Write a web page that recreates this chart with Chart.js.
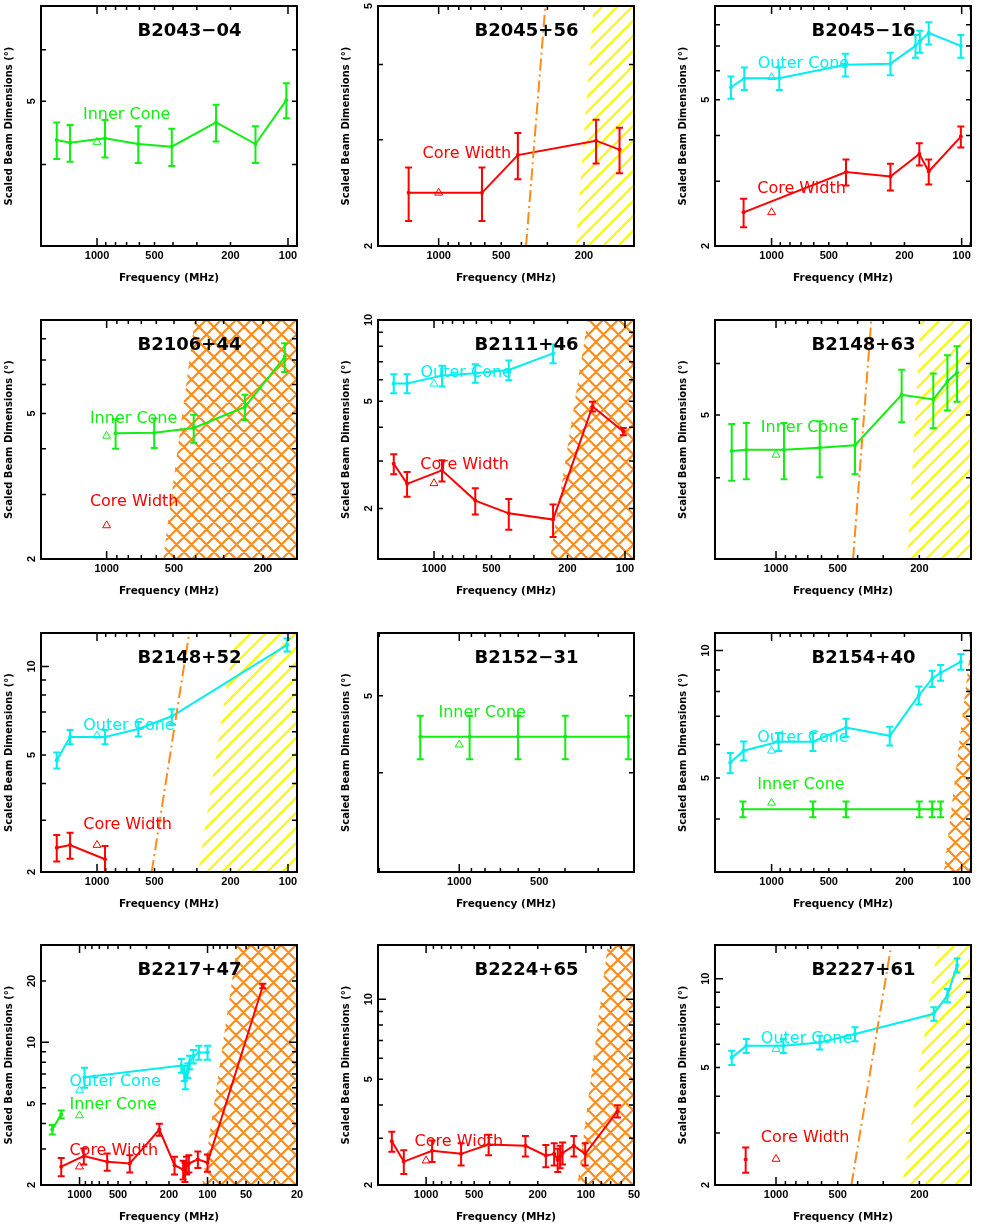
<!DOCTYPE html>
<html>
<head>
<meta charset="utf-8">
<script src="https://cdn.jsdelivr.net/npm/chart.js@4.4.1/dist/chart.umd.min.js"></script>
<style>
  html, body { margin: 0; padding: 0; background: #fff; width: 981px; height: 1226px; overflow: hidden; position: relative; }
  canvas { position: absolute; }
</style>
</head>
<body>
<script>
// colours
const GREEN = '#11ee11', CYAN = '#00eeee', RED = '#ff0000', ORANGE = '#ff8c1a', YELLOW = '#f8f800';

// tick labels
const freqTickLabels = [20, 50, 100, 200, 500, 1000];
const dimTickLabels = [2, 5, 10, 20];
const REF_FREQ = 1000; // open triangles sit at 1 GHz

// B2043-04
const b2043Freq = [1625, 1384, 908, 608, 406, 238, 148, 102];
const b2043Inner = [4.36, 4.32, 4.39, 4.30, 4.26, 4.64, 4.30, 5.02];
const b2043InnerErr = [0.28, 0.28, 0.29, 0.28, 0.28, 0.30, 0.28, 0.31];

// B2045+56
const b2045aFreq = [1394, 619, 416, 175, 135];
const b2045aCore = [2.45, 2.45, 2.83, 2.99, 2.89];
const b2045aCoreErr = [0.25, 0.25, 0.25, 0.25, 0.25];
const b2045aScat = [[380, 2], [307, 5]];
const b2045aHatch = [[219, 2], [180, 5]];

// B2045-16
const b2045bOuterFreq = [1636, 1392, 911, 409, 237, 175, 166, 149, 101];
const b2045bOuter = [5.41, 5.72, 5.72, 6.23, 6.27, 7.01, 7.21, 7.60, 7.01];
const b2045bOuterErr = [0.38, 0.40, 0.40, 0.44, 0.44, 0.50, 0.50, 0.53, 0.50];
const b2045bCoreFreq = [1404, 406, 237, 167, 149, 101];
const b2045bCore = [2.47, 3.18, 3.09, 3.56, 3.19, 3.97];
const b2045bCoreErr = [0.22, 0.26, 0.26, 0.25, 0.25, 0.26];

// B2106+44
const b2106Freq = [912, 613, 408, 241, 160];
const b2106Inner = [4.41, 4.43, 4.56, 5.21, 7.13];
const b2106InnerErr = [0.41, 0.41, 0.40, 0.41, 0.64];
const b2106Hatch = [[559, 2], [404, 9]];

// B2111+46
const b2111Freq = [1625, 1384, 908, 608, 406, 238, 148, 102];
const b2111Outer = [5.82, 5.82, 6.22, 6.35, 6.53, 7.52];
const b2111OuterErr = [0.47, 0.47, 0.55, 0.50, 0.55, 0.60];
const b2111Core = [2.93, 2.47, 2.77, 2.14, 1.92, 1.82, 4.78, 3.86];
const b2111CoreErr = [0.25, 0.26, 0.25, 0.24, 0.25, 0.25, 0.20, 0.12];
const b2111Hatch = [[247, 1.3], [157, 10]];

// B2148+63
const b2148aFreq = [1644, 1396, 914, 612, 412, 244, 171, 146, 131];
const b2148aInner = [4.40, 4.42, 4.42, 4.45, 4.49, 5.37, 5.28, 5.63, 5.81];
const b2148aInnerErr = [0.44, 0.44, 0.44, 0.44, 0.44, 0.50, 0.51, 0.55, 0.57];
const b2148aScat = [[421, 3], [343, 7]];
const b2148aHatch = [[229, 3], [197, 7]];

// B2148+52
const b2148bFreq = [1625, 1384, 908, 608, 406, 101];
const b2148bOuter = [4.80, 5.76, 5.76, 6.13, 6.77, 11.85];
const b2148bOuterErr = [0.30, 0.32, 0.32, 0.35, 0.38, 0.60];
const b2148bCore = [2.42, 2.47, 2.21];
const b2148bCoreErr = [0.25, 0.25, 0.24];
const b2148bScat = [[517, 2], [329, 13]];
const b2148bHatch = [[295, 2], [190, 13]];

// B2152-31
const b2152Freq = [1402, 914, 601, 399, 231];
const b2152Inner = [4.44, 4.44, 4.44, 4.44, 4.44];
const b2152InnerErr = [0.28, 0.28, 0.28, 0.28, 0.28];

// B2154+40
const b2154OuterFreq = [1650, 1404, 919, 606, 406, 239, 168, 143, 129, 101];
const b2154Outer = [5.43, 5.80, 6.09, 6.09, 6.58, 6.29, 7.84, 8.58, 8.86, 9.41];
const b2154OuterErr = [0.30, 0.30, 0.30, 0.30, 0.32, 0.32, 0.38, 0.38, 0.38, 0.40];
const b2154InnerFreq = [1416, 606, 406, 167, 143, 129];
const b2154Inner = [4.22, 4.22, 4.22, 4.22, 4.22, 4.22];
const b2154InnerErr = [0.18, 0.18, 0.18, 0.18, 0.18, 0.18];
const b2154Hatch = [[124, 3], [88, 11]];

// B2217+47
const b2217CoreFreq = [1390, 926, 608, 405, 238, 181, 155, 150, 146, 140, 119, 100, 37];
const b2217Core = [2.46, 2.77, 2.60, 2.55, 3.74, 2.50, 2.38, 2.32, 2.50, 2.55, 2.67, 2.57, 18.9];
const b2217CoreErr = [0.25, 0.25, 0.25, 0.25, 0.25, 0.25, 0.25, 0.25, 0.25, 0.25, 0.25, 0.25, 0.5];
const b2217OuterFreq = [914, 160, 152, 149, 143, 138, 129, 117, 100];
const b2217Outer = [6.75, 7.70, 7.06, 6.50, 7.28, 7.99, 8.52, 8.93, 8.93];
const b2217OuterErr = [0.75, 0.60, 0.60, 0.60, 0.60, 0.60, 0.65, 0.70, 0.70];
const b2217InnerFreq = [1634, 1390];
const b2217Inner = [3.74, 4.44];
const b2217InnerErr = [0.2, 0.2];
const b2217Hatch = [[110, 2], [58.6, 30]];

// B2224+65
const b2224Freq = [1639, 1379, 917, 604, 406, 239, 178, 158, 150, 145, 140, 119, 101, 63.4];
const b2224Core = [2.92, 2.45, 2.69, 2.62, 2.84, 2.81, 2.58, 2.62, 2.49, 2.56, 2.64, 2.81, 2.62, 3.79];
const b2224CoreErr = [0.25, 0.25, 0.25, 0.25, 0.25, 0.25, 0.25, 0.25, 0.25, 0.25, 0.25, 0.25, 0.25, 0.2];
const b2224Hatch = [[113, 2], [73, 16]];

// B2227+61
const b2227OuterFreq = [1644, 1396, 921, 612, 412, 170, 146, 131];
const b2227Outer = [5.40, 5.92, 5.92, 6.08, 6.49, 7.60, 8.77, 11.1];
const b2227OuterErr = [0.30, 0.32, 0.32, 0.33, 0.35, 0.40, 0.45, 0.60];
const b2227CoreFreq = [1406];
const b2227Core = [2.44];
const b2227CoreErr = [0.24];
const b2227Scat = [[429, 2], [274, 13]];
const b2227Hatch = [[242, 2], [163, 13]];

// layout of the 3x4 grid (plot frames)
const PLOT_W = 256;
const COL_LEFT = [41, 378, 715];
const ROW_TOP = [6, 320, 633, 945];
const ROW_H = [240, 239, 239, 240];

const panels = [
  { name: 'B2043\u221204', x: [89.7, 1965], y: [3, 7],
    series: [{ f: b2043Freq, v: b2043Inner, e: b2043InnerErr, c: GREEN }],
    refs: [[4.33, GREEN]], texts: [['Inner Cone', GREEN, 0.164, 0.454]] },
  { name: 'B2045+56', x: [115, 1957], y: [2, 5],
    series: [{ f: b2045aFreq, v: b2045aCore, e: b2045aCoreErr, c: RED }],
    refs: [[2.45, RED]], texts: [['Core Width', RED, 0.174, 0.617]],
    scat: b2045aScat, hatch: { pts: b2045aHatch, cross: false } },
  { name: 'B2045\u221216', x: [89.3, 1985], y: [2, 9],
    series: [{ f: b2045bOuterFreq, v: b2045bOuter, e: b2045bOuterErr, c: CYAN },
             { f: b2045bCoreFreq, v: b2045bCore, e: b2045bCoreErr, c: RED }],
    refs: [[5.76, CYAN], [2.47, RED]],
    texts: [['Outer Cone', CYAN, 0.167, 0.239], ['Core Width', RED, 0.165, 0.76]] },
  { name: 'B2106+44', x: [141, 1965], y: [2, 9],
    series: [{ f: b2106Freq, v: b2106Inner, e: b2106InnerErr, c: GREEN }],
    refs: [[4.34, GREEN], [2.47, RED]],
    texts: [['Inner Cone', GREEN, 0.191, 0.414], ['Core Width', RED, 0.191, 0.759]],
    hatch: { pts: b2106Hatch, cross: true } },
  { name: 'B2111+46', x: [89.7, 1965], y: [1.3, 10],
    series: [{ f: b2111Freq.slice(0, 6), v: b2111Outer, e: b2111OuterErr, c: CYAN },
             { f: b2111Freq, v: b2111Core, e: b2111CoreErr, c: RED }],
    refs: [[5.8, CYAN], [2.48, RED]],
    texts: [['Outer Cone', CYAN, 0.166, 0.223], ['Core Width', RED, 0.165, 0.606]],
    hatch: { pts: b2111Hatch, cross: true } },
  { name: 'B2148+63', x: [112, 1984], y: [3, 7],
    series: [{ f: b2148aFreq, v: b2148aInner, e: b2148aInnerErr, c: GREEN }],
    refs: [[4.34, GREEN]], texts: [['Inner Cone', GREEN, 0.179, 0.453]],
    scat: b2148aScat, hatch: { pts: b2148aHatch, cross: false } },
  { name: 'B2148+52', x: [89.7, 1965], y: [2, 13],
    series: [{ f: b2148bFreq, v: b2148bOuter, e: b2148bOuterErr, c: CYAN },
             { f: b2148bFreq.slice(0, 3), v: b2148bCore, e: b2148bCoreErr, c: RED }],
    refs: [[5.82, CYAN], [2.47, RED]],
    texts: [['Outer Cone', CYAN, 0.165, 0.389], ['Core Width', RED, 0.165, 0.801]],
    scat: b2148bScat, hatch: { pts: b2148bHatch, cross: false } },
  { name: 'B2152\u221231', x: [220, 2022], y: [3, 6],
    series: [{ f: b2152Freq, v: b2152Inner, e: b2152InnerErr, c: GREEN }],
    refs: [[4.34, GREEN]], texts: [['Inner Cone', GREEN, 0.236, 0.336]] },
  { name: 'B2154+40', x: [89.3, 1985], y: [3, 11],
    series: [{ f: b2154OuterFreq, v: b2154Outer, e: b2154OuterErr, c: CYAN },
             { f: b2154InnerFreq, v: b2154Inner, e: b2154InnerErr, c: GREEN }],
    refs: [[5.8, CYAN], [4.37, GREEN]],
    texts: [['Outer Cone', CYAN, 0.165, 0.438], ['Inner Cone', GREEN, 0.165, 0.636]],
    hatch: { pts: b2154Hatch, cross: true } },
  { name: 'B2217+47', x: [20, 2000], y: [2, 30],
    series: [{ f: b2217OuterFreq, v: b2217Outer, e: b2217OuterErr, c: CYAN },
             { f: b2217InnerFreq, v: b2217Inner, e: b2217InnerErr, c: GREEN },
             { f: b2217CoreFreq, v: b2217Core, e: b2217CoreErr, c: RED }],
    refs: [[5.81, CYAN], [4.38, GREEN], [2.46, RED]],
    texts: [['Outer Cone', CYAN, 0.111, 0.57], ['Inner Cone', GREEN, 0.111, 0.664], ['Core Width', RED, 0.111, 0.857]],
    hatch: { pts: b2217Hatch, cross: true } },
  { name: 'B2224+65', x: [50, 2000], y: [2, 16],
    series: [{ f: b2224Freq, v: b2224Core, e: b2224CoreErr, c: RED }],
    refs: [[2.47, RED]], texts: [['Core Width', RED, 0.143, 0.82]],
    hatch: { pts: b2224Hatch, cross: true } },
  { name: 'B2227+61', x: [112, 1984], y: [2, 13],
    series: [{ f: b2227OuterFreq, v: b2227Outer, e: b2227OuterErr, c: CYAN },
             { f: b2227CoreFreq, v: b2227Core, e: b2227CoreErr, c: RED }],
    refs: [[5.77, CYAN], [2.45, RED]],
    texts: [['Outer Cone', CYAN, 0.179, 0.389], ['Core Width', RED, 0.179, 0.805]],
    scat: b2227Scat, hatch: { pts: b2227Hatch, cross: false } }
];

function minorValues(min, max) {
  const out = [];
  for (let d = Math.floor(Math.log10(min)); d <= Math.ceil(Math.log10(max)); d++) {
    for (let k = 1; k <= 9; k++) {
      const v = k * Math.pow(10, d);
      if (v > min * 1.001 && v < max * 0.999) out.push(v);
    }
  }
  return out;
}

function drawHatch(ctx, a, xs, ys, h) {
  const b = [xs.getPixelForValue(h.pts[0][0]), ys.getPixelForValue(h.pts[0][1])];
  const t = [xs.getPixelForValue(h.pts[1][0]), ys.getPixelForValue(h.pts[1][1])];
  ctx.save();
  ctx.beginPath();
  ctx.rect(a.left, a.top, a.width, a.height);
  ctx.clip();
  ctx.beginPath();
  ctx.moveTo(b[0], b[1]);
  ctx.lineTo(t[0], t[1]);
  ctx.lineTo(a.right + 10, t[1]);
  ctx.lineTo(a.right + 10, b[1]);
  ctx.closePath();
  ctx.clip();
  ctx.strokeStyle = h.cross ? ORANGE : YELLOW;
  ctx.lineWidth = h.cross ? 2.2 : 2;
  const step = h.cross ? 15 : 15;
  const H = a.height;
  ctx.beginPath();
  for (let s = a.left - H; s < a.right + H; s += step) {
    ctx.moveTo(s, a.bottom); ctx.lineTo(s + H, a.top);
    if (h.cross) { ctx.moveTo(s, a.top); ctx.lineTo(s + H, a.bottom); }
  }
  ctx.stroke();
  ctx.restore();
}

function panelPlugin(p) {
  return {
    id: 'panel',
    beforeDatasetsDraw(chart) {
      if (p.hatch) drawHatch(chart.ctx, chart.chartArea, chart.scales.x, chart.scales.y, p.hatch);
    },
    afterDatasetsDraw(chart) {
      const { ctx, chartArea: a, scales: { x, y } } = chart;
      ctx.save();
      ctx.beginPath();
      ctx.rect(a.left, a.top, a.width, a.height);
      ctx.clip();
      // error bars
      p.series.forEach(s => {
        ctx.strokeStyle = s.c;
        ctx.lineWidth = 2;
        ctx.beginPath();
        s.f.forEach((f, i) => {
          const px = x.getPixelForValue(f);
          const hi = y.getPixelForValue(s.v[i] + s.e[i]);
          const lo = y.getPixelForValue(s.v[i] - s.e[i]);
          ctx.moveTo(px, hi); ctx.lineTo(px, lo);
          ctx.moveTo(px - 3.5, hi); ctx.lineTo(px + 3.5, hi);
          ctx.moveTo(px - 3.5, lo); ctx.lineTo(px + 3.5, lo);
        });
        ctx.stroke();
      });
      ctx.restore();
      // series labels
      ctx.save();
      ctx.font = '16px "DejaVu Sans"';
      ctx.textAlign = 'left';
      ctx.textBaseline = 'middle';
      p.texts.forEach(([txt, c, fx, fy]) => {
        ctx.fillStyle = c;
        ctx.fillText(txt, a.left + fx * a.width, a.top + fy * a.height);
      });
      // pulsar name
      ctx.fillStyle = '#000';
      ctx.font = 'bold 18px "DejaVu Sans"';
      ctx.textAlign = 'center';
      ctx.fillText(p.name, a.left + 0.58 * a.width, a.top + 25.5);
      ctx.restore();
    },
    afterDraw(chart) {
      const { ctx, chartArea: a, scales: { x, y } } = chart;
      ctx.save();
      ctx.strokeStyle = '#000';
      ctx.lineWidth = 1.5;
      ctx.beginPath();
      minorValues(p.x[0], p.x[1]).forEach(v => {
        const px = x.getPixelForValue(v);
        const len = Number.isInteger(Math.log10(v)) ? 8 : 4;
        ctx.moveTo(px, a.bottom); ctx.lineTo(px, a.bottom - len);
        ctx.moveTo(px, a.top); ctx.lineTo(px, a.top + len);
      });
      minorValues(p.y[0], p.y[1]).forEach(v => {
        const py = y.getPixelForValue(v);
        const len = Number.isInteger(Math.log10(v)) ? 8 : 5;
        ctx.moveTo(a.left, py); ctx.lineTo(a.left + len, py);
        ctx.moveTo(a.right, py); ctx.lineTo(a.right - len, py);
      });
      ctx.stroke();
      ctx.lineWidth = 2;
      ctx.strokeRect(a.left, a.top, a.width, a.height);
      // rotated labels of the dimension axis
      ctx.fillStyle = '#000';
      ctx.font = 'bold 11px "Liberation Sans"';
      ctx.textAlign = 'center';
      ctx.textBaseline = 'middle';
      dimTickLabels.filter(v => v >= p.y[0] * 0.999 && v <= p.y[1] * 1.001).forEach(v => {
        ctx.save();
        ctx.translate(a.left - 9, y.getPixelForValue(v));
        ctx.rotate(-Math.PI / 2);
        ctx.fillText(String(v), 0, 0);
        ctx.restore();
      });
      ctx.restore();
    }
  };
}

function makeChart(p, idx) {
  const col = idx % 3, row = Math.floor(idx / 3);
  const left = COL_LEFT[col], top = ROW_TOP[row], h = ROW_H[row];
  const cv = document.createElement('canvas');
  cv.width = 41 + PLOT_W + 8;
  cv.height = 6 + h + 42;
  cv.style.left = (left - 41) + 'px';
  cv.style.top = (top - 6) + 'px';
  document.body.appendChild(cv);

  const datasets = [];
  if (p.scat) {
    datasets.push({
      data: p.scat.map(([f, v]) => ({ x: f, y: v })),
      borderColor: ORANGE, borderWidth: 2, borderDash: [12, 4, 2, 4],
      pointRadius: 0, fill: false
    });
  }
  p.series.forEach(s => {
    datasets.push({
      data: s.f.map((f, i) => ({ x: f, y: s.v[i] })),
      borderColor: s.c, backgroundColor: s.c, borderWidth: 2,
      pointRadius: 2, pointBorderWidth: 0, pointBackgroundColor: s.c, fill: false
    });
  });
  p.refs.forEach(([v, c]) => {
    datasets.push({
      data: [{ x: REF_FREQ, y: v }], showLine: false,
      pointStyle: 'triangle', pointRadius: 4.6,
      pointBorderColor: c, pointBackgroundColor: 'rgba(0,0,0,0)', pointBorderWidth: 1
    });
  });

  new Chart(cv, {
    type: 'line',
    data: { datasets },
    options: {
      responsive: false,
      animation: false,
      devicePixelRatio: 1,
      layout: { padding: { left: 0, top: 6, right: 8, bottom: 0 } },
      plugins: { legend: { display: false }, tooltip: { enabled: false } },
      scales: {
        x: {
          type: 'logarithmic', reverse: true, min: p.x[0], max: p.x[1],
          grid: { display: false, drawTicks: false }, border: { display: false },
          afterBuildTicks: s => {
            s.ticks = freqTickLabels.filter(v => v >= p.x[0] * 0.999 && v <= p.x[1] * 1.001).map(v => ({ value: v }));
          },
          afterFit: s => { s.height = 42; s.paddingLeft = 0; s.paddingRight = 0; },
          ticks: {
            autoSkip: false, maxRotation: 0, padding: 3, color: '#000',
            font: { family: 'Liberation Sans', weight: 'bold', size: 11 },
            callback: v => String(v)
          },
          title: {
            display: true, text: 'Frequency (MHz)', color: '#000',
            font: { family: 'DejaVu Sans', weight: 'bold', size: 10.5 },
            padding: { top: 0, bottom: 3 }
          }
        },
        y: {
          type: 'logarithmic', min: p.y[0], max: p.y[1],
          grid: { display: false, drawTicks: false }, border: { display: false },
          ticks: { display: false },
          afterFit: s => { s.width = 41; s.paddingTop = 0; s.paddingBottom = 0; },
          title: {
            display: true, text: 'Scaled Beam Dimensions (°)', color: '#000',
            font: { family: 'DejaVu Sans', weight: 'bold', size: 10 },
            padding: { top: 3, bottom: 0 }
          }
        }
      }
    },
    plugins: [panelPlugin(p)]
  });
}

panels.forEach(makeChart);
</script>
</body>
</html>
